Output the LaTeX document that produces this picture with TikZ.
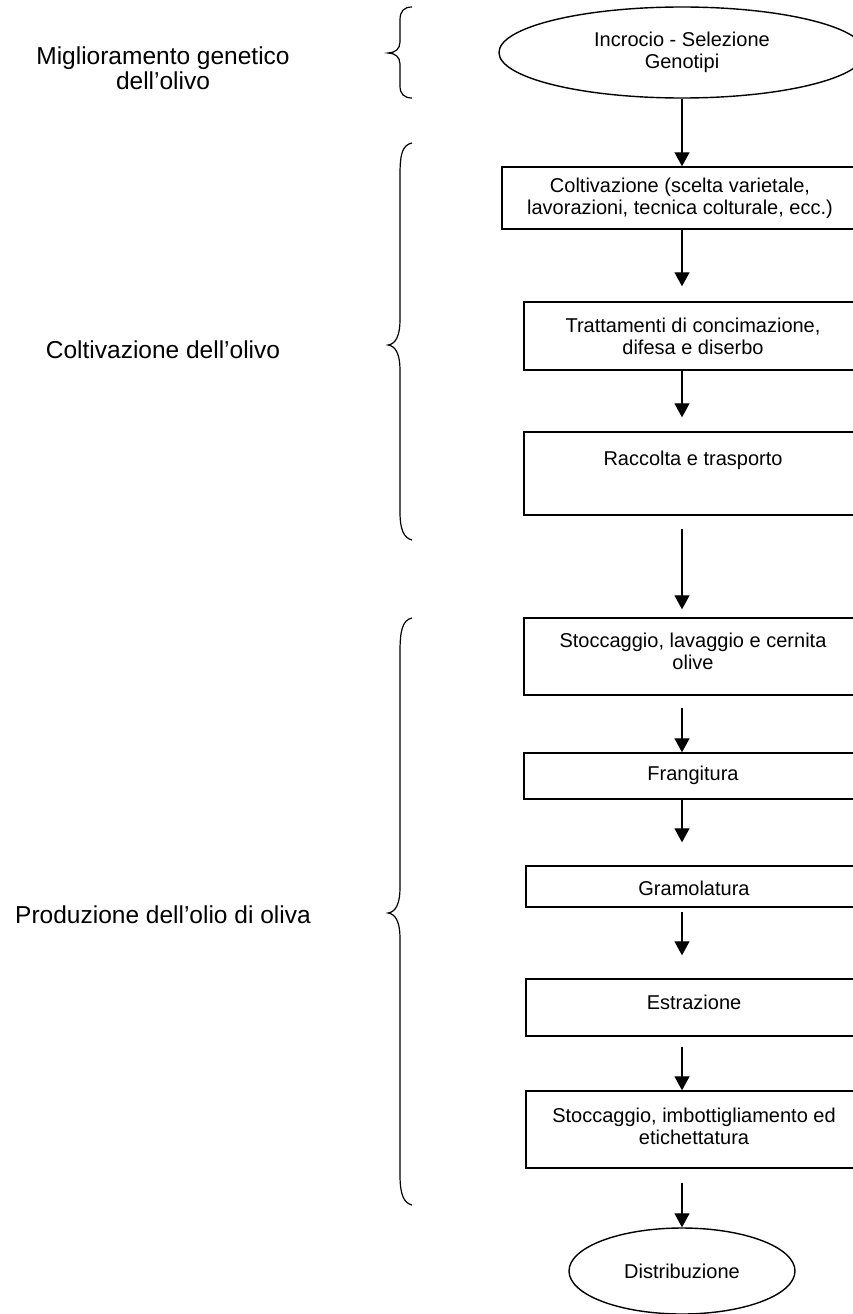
\documentclass[tikz,border=0pt]{standalone}
\usepackage{fontspec}
\setmainfont{Liberation Sans}
\usetikzlibrary{shapes.geometric,arrows.meta}
\begin{document}
\begin{tikzpicture}[x=1pt,y=-1pt,
  box/.style={draw, line width=1.4pt, rectangle, inner sep=0pt},
  oval/.style={draw, line width=1.4pt, ellipse, inner sep=0pt, align=center, font=\fontsize{20}{22}\selectfont},
  txt/.style={align=center, inner sep=0pt, font=\fontsize{20}{22}\selectfont},
  lab/.style={align=center, inner sep=0pt, font=\fontsize{24.5}{25.5}\selectfont},
  arr/.style={line width=1.3pt, -{Triangle[width=15pt,length=14pt]}},
  brace/.style={line width=1.2pt}]
\useasboundingbox (0,0) rectangle (853,1314);

% left labels
\node[lab] (l1) at (163,68) {Miglioramento genetico\\dell’olivo};
\node[lab] (l2) at (163,350) {Coltivazione dell’olivo};
\node[lab] (l3) at (163,915) {Produzione dell’olio di oliva};

% braces
\draw[brace] (412,7) .. controls (404,7) and (400,11) .. (400,20) -- (400,42)
  .. controls (400,49) and (395,53) .. (388,53) .. controls (395,53) and (400,57) .. (400,64)
  -- (400,86) .. controls (400,94) and (404,98) .. (412,98);
\draw[brace] (412,143) .. controls (402,145) and (400,155) .. (400,175) -- (400,320)
  .. controls (400,335) and (396,344) .. (388,345) .. controls (396,346) and (400,355) .. (400,370)
  -- (400,512) .. controls (400,530) and (404,538) .. (412,540);
\draw[brace] (412,618) .. controls (402,620) and (400,632) .. (400,652) -- (400,888)
  .. controls (400,903) and (396,912) .. (388,913) .. controls (396,914) and (400,923) .. (400,938)
  -- (400,1175) .. controls (400,1195) and (404,1203) .. (412,1205);

% flow nodes
\node[oval, minimum width=366pt, minimum height=91pt] (e1) at (682,52.5) {Incrocio - Selezione\\Genotipi};
\node[box, minimum width=356pt, minimum height=62pt] (b1) at (680,198) {};
\node[box, minimum width=338pt, minimum height=68pt] (b2) at (693,336) {};
\node[box, minimum width=338pt, minimum height=83pt] (b3) at (693,473.5) {};
\node[box, minimum width=338pt, minimum height=77pt] (b4) at (693,656.5) {};
\node[box, minimum width=338pt, minimum height=46pt] (b5) at (693,776) {};
\node[box, minimum width=336pt, minimum height=41pt] (b6) at (694,886.5) {};
\node[box, minimum width=336pt, minimum height=57pt] (b7) at (694,1007.5) {};
\node[box, minimum width=336pt, minimum height=77pt] (b8) at (694,1129.5) {};
\node[oval, minimum width=226pt, minimum height=86pt] (e2) at (682,1271) {Distribuzione};

% box texts
\node[txt] (t1) at (680,198.5) {Coltivazione (scelta varietale,\\lavorazioni, tecnica colturale, ecc.)};
\node[txt] (t2) at (693,336) {Trattamenti di concimazione,\\difesa e diserbo};
\node[txt] (t3) at (693,460) {Raccolta e trasporto};
\node[txt] (t4) at (693,651.5) {Stoccaggio, lavaggio e cernita\\olive};
\node[txt] (t5) at (693,775) {Frangitura};
\node[txt] (t6) at (694,888) {Gramolatura};
\node[txt] (t7) at (694,1002) {Estrazione};
\node[txt] (t8) at (694,1126) {Stoccaggio, imbottigliamento ed\\etichettatura};

% arrows
\draw[arr] (e1.south) -- (b1.north -| e1.south);
\draw[arr, shorten >=15pt] (b1.south -| e1.south) -- (b2.north -| e1.south);
\draw[arr, shorten >=14pt] (b2.south -| e1.south) -- (b3.north -| e1.south);
\draw[arr, shorten <=13pt, shorten >=8pt] (b3.south -| e1.south) -- (b4.north -| e1.south);
\draw[arr, shorten <=12pt] (b4.south -| e1.south) -- (b5.north -| e1.south);
\draw[arr, shorten >=23pt] (b5.south -| e1.south) -- (b6.north -| e1.south);
\draw[arr, shorten <=4pt, shorten >=23pt] (b6.south -| e1.south) -- (b7.north -| e1.south);
\draw[arr, shorten <=10pt] (b7.south -| e1.south) -- (b8.north -| e1.south);
\draw[arr, shorten <=14pt] (b8.south -| e1.south) -- (e2.north);
\end{tikzpicture}
\end{document}
